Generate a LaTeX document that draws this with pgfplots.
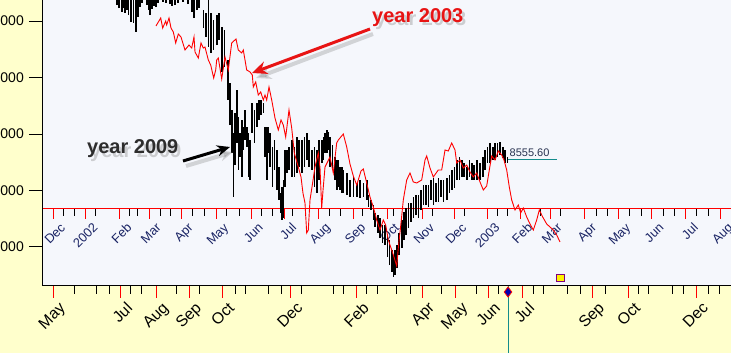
\documentclass[border=0pt]{standalone}
\usepackage{pgfplots}
\pgfplotsset{compat=1.18}
\usepackage{pgfplotstable}
\usepackage{fontspec}
\setmainfont{Liberation Sans}
\usetikzlibrary{arrows.meta}
\definecolor{ybg}{RGB}{255,255,204}
\definecolor{pbg}{RGB}{245,247,252}
\definecolor{navytxt}{RGB}{25,35,100}
\definecolor{tealc}{RGB}{20,140,140}
\definecolor{annred}{RGB}{232,20,20}
\definecolor{valtxt}{RGB}{40,50,80}

% year 2009: daily high-low bars
\pgfplotstableread{
x lo hi
117 11283 11372
119 11230 11372
121.7 11160 11372
123.5 11230 11372
125 11142 11372
127 11195 11372
128.3 11106 11372
130.7 10983 11372
133.3 10965 11372
135.7 10806 11372
137.7 11071 11372
140 11248 11372
142 11319 11372
146.7 11283 11372
148.5 11195 11372
150 11106 11372
152 11213 11372
154 11266 11372
155.7 11248 11372
158 11319 11372
163 11337 11372
166 11319 11372
170 11301 11372
172 11266 11372
175 11283 11372
178 11319 11372
183 11337 11372
188 11301 11372
191.7 11160 11372
194 11053 11372
196.7 11195 11372
199 11230 11372
203.3 10876 11195
206 10717 11142
208.3 10540 11372
211 10434 11142
213.3 10487 11018
216.7 10575 11106
219 10664 11142
221.7 10098 10894
224.3 10186 10841
227.7 9602 10310
230 9159 9903
231.7 8664 9425
233.3 7885 9018
235 8451 9372
236.7 8841 9779
238.3 8363 9301
240 8593 9018
241.7 8239 9248
243.3 8717 9124
245 8894 9425
246.7 8770 9124
248.3 8239 9018
250 8186 8894
251.7 9018 9549
254.3 8841 9425
256.7 9124 9549
259 9248 9602
261 9336 9602
263.3 9372 9549
265 8593 9124
266.7 8186 9124
268.3 8664 9124
270 8416 9018
272.3 8062 8770
274.3 8363 8894
276.7 8009 8717
279 7832 8416
280.7 7602 7956
281.7 7478 8062
283.3 7513 8186
285 8062 8717
286.7 8310 8717
289 8363 8770
291.7 8239 8894
294.3 8239 8770
296.7 8310 8947
299 8416 8894
301.7 8310 8894
304.3 8416 8947
306.7 8540 9018
309 8416 8894
311.7 8363 8717
314.3 8062 8770
316.7 7956 8717
319 8186 8894
321.7 8487 8894
323.3 8540 8947
325 8664 9018
326.7 8664 9071
328.5 8717 9036
330 8416 8947
332.3 8363 8805
335 8186 8593
336.7 8009 8540
338.3 8062 8540
340 8009 8416
341.7 7956 8416
343.3 7956 8363
346.7 7920 8310
350 7885 8186
353.3 7885 8239
356.7 7885 8133
360 7867 8186
363.3 7885 8133
366.7 7832 8186
368.3 7708 7920
371 7655 7832
373.3 7478 7743
375 7354 7602
377.7 7248 7566
380 7159 7513
382.3 7071 7389
385 7035 7389
387.3 6823 7212
389.3 6681 7124
391.7 6558 6947
393.3 6469 6858
395 6504 6947
396.7 6628 7035
399 6858 7248
401.7 6982 7478
404 7124 7620
406 7212 7690
408.3 7336 7779
411 7443 7779
413.3 7513 7885
416 7566 7920
418.3 7513 7920
420.7 7655 8009
423.3 7743 8097
426 7743 8097
428.3 7708 8097
431 7832 8186
433.3 7743 8221
435.7 7797 8133
438.3 7797 8221
441 7885 8186
443.3 7797 8186
446.7 7832 8221
449.3 7956 8274
451.7 8009 8363
454.3 8044 8416
456.7 8186 8540
459.3 8186 8593
461.7 8239 8540
464 8239 8487
466.7 8186 8416
469.3 8239 8540
471.7 8186 8487
474 8186 8451
476.7 8186 8540
480 8186 8487
482.7 8239 8593
485 8363 8717
487.3 8487 8770
490 8487 8841
492.7 8540 8770
495 8540 8841
497.3 8593 8841
500 8628 8859
502.7 8575 8770
505 8487 8717
507.3 8487 8593
}\blkdata

% year 2003: closing line
\pgfplotstableread{
x y
156 10912
160.7 11053
162.7 10876
165.7 11000
166.7 10930
169 11053
171 10876
173.3 10806
175.7 10611
178.3 10770
181 10717
185 10487
189 10575
191.7 10522
194 10717
195 10452
198.3 10345
201 10611
203.3 10522
205 10540
208.3 10310
210.7 10221
213.7 9991
215.7 10133
216.7 10310
218.3 10345
221.7 9974
225 10363
228.3 10133
231.7 10611
236 10682
238.3 10487
241.7 10434
243.3 10487
246.7 10133
250 10098
252.3 10044
253.3 9832
255.7 9921
258.3 9690
260.7 9744
263.3 9602
265 9690
266.7 9602
269 9832
271.7 9602
275 9283
278.3 9071
281 9248
283.3 9159
285.7 8947
289 9425
291.7 9106
294.3 8664
298.3 8416
301 8239
303 7950
305 7779
306.7 7248
308.3 7301
310 7832
312.3 8097
315 8416
318.3 8664
320 8400
321.7 7690
323 8000
325 8416
330 8593
333.3 8310
336.7 8841
338.3 8894
343.3 9000
346.7 8770
350 8469
353.3 8257
356.7 8097
361 8345
363.3 8381
366.7 8133
370 7885
373.3 7708
376.7 7478
380 7301
383.3 7478
385.7 7389
388.3 7124
391.7 6947
394.3 6805
396.7 6664
398.3 6982
401 7425
403.3 7832
406.7 8186
410 8310
413.3 8151
416.7 8133
421.7 8186
425 8540
426.7 8611
430 8398
433.3 8239
438.3 8363
441.7 8363
445 8717
448.3 8699
451.7 8841
455 8717
456.7 8487
460 8540
463.3 8398
466.7 8451
470 8328
473.3 8239
476.7 8310
480 8151
483.3 8009
486.7 8080
489.3 8363
491.7 8611
495 8540
498.3 8699
501.7 8628
504 8540
506.7 8363
509.3 8062
511.7 7832
515 7655
518.3 7743
520.7 7602
523.3 7690
526.7 7531
530 7407
533.3 7301
536.7 7478
539.3 7655
542.7 7531
546.7 7407
550 7354
553.3 7301
556.7 7212
560 7089
}\reddata

\begin{document}
\begin{tikzpicture}
\fill[ybg] (0pt,0pt) rectangle (731pt,353pt);
\fill[pbg] (43pt,67pt) rectangle (731pt,353pt);

% inner red date axis (year 2003 dates)
\begin{axis}[at={(43pt,144pt)}, anchor=south west, scale only axis,
  width=688pt, height=209pt, xmin=43, xmax=731, ymin=0, ymax=1,
  axis x line*=bottom, axis y line=none,
  axis line style={red, line width=1pt},
  tick align=outside, major tick length=10pt, minor tick length=7pt,
  major tick style={red, line width=1pt},
  minor tick style={black, line width=1pt},
  xtick={53.3,85.7,119.3,149,181,216.3,251,284,318.3,353.3,387,422.3,454.3,487.7,520,550,584.3,618.3,651.7,685.7,720.7},
  xticklabels={Dec,2002,Feb,Mar,Apr,May,Jun,Jul,Aug,Sep,Oct,Nov,Dec,2003,Feb,Mar,Apr,May,Jun,Jul,Aug},
  minor xtick={63.3,74,95.7,129.3,137.7,160,170.7,192.7,204,226.7,239.3,261.7,272.7,292.7,305.7,329,340,362.3,393.3,410,432.3,464,497.7,507.7,540,560,596.7,607.3,629.3,641,663.3,674,696.7,708.3},
  x tick label style={font=\fontsize{12.8}{12.8}\selectfont, text=navytxt, xshift=6.5pt, rotate=45, anchor=north east, inner sep=0pt},
  xticklabel shift=3pt]
\end{axis}

% main data axis
\begin{axis}[at={(43pt,67pt)}, anchor=south west, scale only axis,
  width=688pt, height=286pt, xmin=43, xmax=731, ymin=6309.7, ymax=11371.9,
  axis x line*=bottom, axis y line=none,
  axis line style={black, line width=1pt},
  tick align=outside, major tick length=12pt, minor tick length=8pt,
  major tick style={red, line width=1pt},
  minor tick style={black, line width=1pt},
  xtick={53.3,120.3,156.3,189.3,222.3,290.7,356.7,422.3,455.7,488.3,522.3,592.3,628.3,696.3},
  xticklabels={May,Jul,Aug,Sep,Oct,Dec,Feb,Apr,May,Jun,Jul,Sep,Oct,Dec},
  minor xtick={74,96.7,109.3,130.7,141.7,176.7,199.3,235,245,268.3,281,301.7,333.3,343.3,366.7,377.3,396.7,410,441.7,476.7,498.3,533.3,543.3,567.3,580,605,638.3,648.3,672.7,683.3,708.3,719.3},
  x tick label style={font=\fontsize{15.8}{15.8}\selectfont, text=black, xshift=5pt, rotate=45, anchor=north east, inner sep=0pt},
  xticklabel shift=3pt]
\addplot[draw=none, mark=none, error bars/.cd, y dir=plus, y explicit, error mark=none,
  error bar style={draw=black, line width=1.6pt}]
  table[x=x, y=lo, y error expr=\thisrow{hi}-\thisrow{lo}] {\blkdata};
\addplot[red, line width=0.9pt] table[x=x, y=y] {\reddata};
\addplot[tealc, line width=1pt] coordinates {(508,8555.6) (557,8555.6)};
\node[anchor=south west, inner sep=0pt, font=\fontsize{11}{11}\selectfont, text=valtxt] at (axis cs:509.5,8590) {8555.60};
\end{axis}

% y axis with ticks, and markers below the plot
\begin{axis}[at={(43pt,67pt)}, anchor=south west, scale only axis,
  width=688pt, height=286pt, xmin=43, xmax=731, ymin=6309.7, ymax=11371.9,
  axis y line*=left, axis x line=none, clip=false,
  axis line style={black, line width=1pt},
  tick align=outside, major tick length=14pt,
  ytick={7000,8000,9000,10000,11000}, scaled y ticks=false,
  tick style={black, line width=1pt},
  /pgf/number format/assume math mode=true,
  y tick label style={font=\fontsize{14}{14}\selectfont, /pgf/number format/1000 sep={}, inner sep=5pt}]
\addplot[tealc, line width=1pt] coordinates {(508,6309.7) (508,5124)};
\addplot[only marks, mark=diamond*, mark size=5pt, mark options={fill=blue!70!black, draw=red, line width=0.8pt}] coordinates {(508,6203.5)};
\addplot[only marks, mark=square*, mark size=3.7pt, mark options={fill=yellow, draw=violet, line width=1pt}] coordinates {(560.3,6451)};
\end{axis}

% annotations
\node[anchor=base west, inner sep=0pt, font=\bfseries\fontsize{20}{20}\selectfont, text=gray, opacity=0.35] at (375pt,327pt) {year 2003};
\node[anchor=base west, inner sep=0pt, font=\bfseries\fontsize{20}{20}\selectfont, text=annred] at (372pt,330pt) {year 2003};
\draw[gray, opacity=0.3, line width=4pt, -{Stealth[length=15pt,width=13pt]}] (373pt,319pt) -- (256pt,275pt);
\draw[annred, line width=3pt, -{Stealth[length=15pt,width=13pt]}] (370pt,324pt) -- (252pt,280pt);

\node[anchor=base west, inner sep=0pt, font=\bfseries\fontsize{20}{20}\selectfont, text=gray, opacity=0.35] at (90pt,195pt) {year 2009};
\node[anchor=base west, inner sep=0pt, font=\bfseries\fontsize{20}{20}\selectfont, text={rgb,255:red,45;green,45;blue,45}] at (87pt,199pt) {year 2009};
\draw[gray, opacity=0.3, line width=4pt, -{Stealth[length=13pt,width=11pt]}] (186pt,187pt) -- (233pt,201pt);
\draw[black, line width=3pt, -{Stealth[length=13pt,width=11pt]}] (183pt,192pt) -- (230pt,206pt);

\pgfresetboundingbox
\path[use as bounding box] (0pt,0pt) rectangle (731pt,353pt);
\end{tikzpicture}
\end{document}
